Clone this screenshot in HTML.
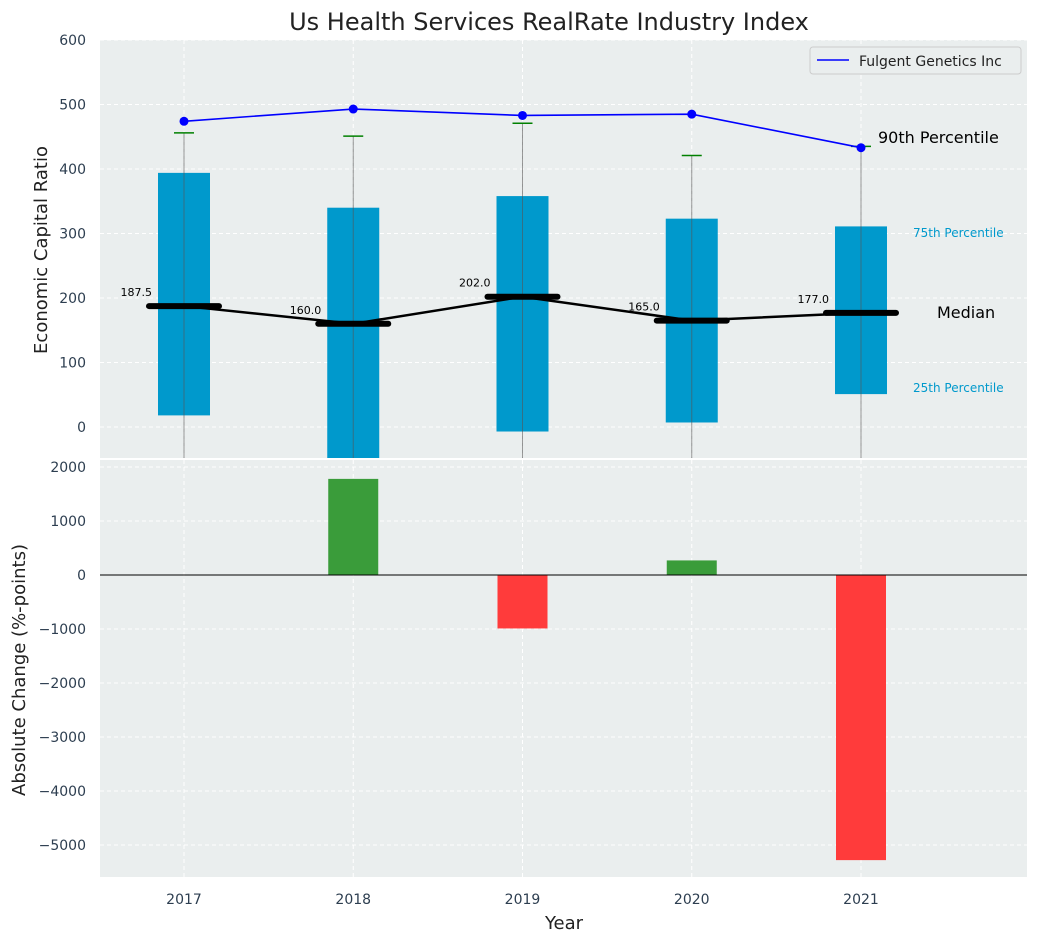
<!DOCTYPE html>
<html><head><meta charset="utf-8"><style>
body{margin:0;background:#fff;font-family:"Liberation Sans","DejaVu Sans",sans-serif;}
svg text{font-family:"DejaVu Sans","Liberation Sans",sans-serif;}
</style></head><body>
<svg id="c" width="1039" height="942" xmlns="http://www.w3.org/2000/svg"></svg>
<script>
const years=[2017,2018,2019,2020,2021];
const p25=[18,-60,-7,7,51];
const p75=[394,340,358,323,311];
const p90=[456,451,471,421,435];
const medians=[187.5,160,202,165,177];
const fulgent=[474,493,483,485,433];
const changes=[0,1780,-990,270,-5280];
const topTicks=[0,100,200,300,400,500,600];
const botTicks=[2000,1000,0,-1000,-2000,-3000,-4000,-5000];

const NS="http://www.w3.org/2000/svg";
const svg=document.getElementById('c');
function el(t,a,parent){const e=document.createElementNS(NS,t);for(const k in a)e.setAttribute(k,a[k]);(parent||svg).appendChild(e);return e;}
const L=100,R=1027;
const x=v=>184+(v-2017)*169.25;
const yT=v=>427-v*0.645;
const yB=v=>575-v*0.054;
const T0=40,T1=458,B0=460,B1=877;

// backgrounds
let bg=el('rect',{x:L,y:T0,width:R-L,height:T1-T0,fill:'#eaeeee'});

let bg2=el('rect',{x:L,y:B0,width:R-L,height:B1-B0,fill:'#eaeeee'});


// top grid + ticks
topTicks.forEach(t=>{
 el('line',{x1:L,x2:R,y1:yT(t),y2:yT(t),stroke:'#fff','stroke-dasharray':'4,3','stroke-width':1});
 const tx=el('text',{x:86,y:yT(t)+5,'text-anchor':'end','font-size':14,fill:'#2d3e50'});tx.textContent=t;
 
});
years.forEach(yr=>{
 el('line',{x1:x(yr),x2:x(yr),y1:T0,y2:T1,stroke:'#fff','stroke-dasharray':'4,3'});
 el('line',{x1:x(yr),x2:x(yr),y1:B0,y2:B1,stroke:'#fff','stroke-dasharray':'4,3'});
 const tx=el('text',{x:x(yr),y:904,'text-anchor':'middle','font-size':14,fill:'#2d3e50'});tx.textContent=yr;
 
});
botTicks.forEach(t=>{
 el('line',{x1:L,x2:R,y1:yB(t),y2:yB(t),stroke:'#fff','stroke-dasharray':'4,3'});
 const tx=el('text',{x:86,y:yB(t)+5,'text-anchor':'end','font-size':14,fill:'#2d3e50'});tx.textContent=(t<0?'\u2212'+(-t):t);
 
});

// clip
const defs=el('defs',{});
const cp=el('clipPath',{id:'ct'},defs);el('rect',{x:L,y:T0,width:R-L,height:T1-T0},cp);
const g=el('g',{'clip-path':'url(#ct)'});

years.forEach((yr,i)=>{
 const b=el('rect',{x:x(yr)-26,y:yT(p75[i]),width:52,height:yT(p25[i])-yT(p75[i]),fill:'#0099cc'},g);
 
 el('line',{x1:x(yr),x2:x(yr),y1:yT(p90[i]),y2:T1,stroke:'#555','stroke-opacity':0.6,'stroke-width':1},g);
 el('line',{x1:x(yr)-10,x2:x(yr)+10,y1:yT(p90[i]),y2:yT(p90[i]),stroke:'#008000','stroke-width':1.5},g);
 const m=el('line',{x1:x(yr)-35,x2:x(yr)+35,y1:yT(medians[i]),y2:yT(medians[i]),stroke:'#000','stroke-width':6,'stroke-linecap':'round'},g);
 
 const lb=el('text',{x:x(yr)-32,y:yT(medians[i])-10,'text-anchor':'end','font-size':11,fill:'#000'});lb.textContent=medians[i].toFixed(1);
 
});
const ml=el('polyline',{points:years.map((yr,i)=>x(yr)+','+yT(medians[i])).join(' '),fill:'none',stroke:'#000','stroke-width':2.5},g);

const fl=el('polyline',{points:years.map((yr,i)=>x(yr)+','+yT(fulgent[i])).join(' '),fill:'none',stroke:'#0000ff','stroke-width':1.6},g);

years.forEach((yr,i)=>{const c=el('circle',{cx:x(yr),cy:yT(fulgent[i]),r:4.5,fill:'#0000ff'},g);
 });

// annotations
[['90th Percentile',878,143,16,'#000'],['75th Percentile',913,237,12,'#0099cc'],['Median',937,318,16,'#000'],['25th Percentile',913,392,12,'#0099cc']].forEach(a=>{
 const t=el('text',{x:a[1],y:a[2],'font-size':a[3],fill:a[4]});t.textContent=a[0];
 
});

// legend
const lg=el('g',{});
el('rect',{x:810,y:47,width:211,height:27,fill:'#eaeeee',stroke:'#ccc',rx:3},lg);
el('line',{x1:817,x2:849,y1:60,y2:60,stroke:'#0000ff','stroke-width':1.6},lg);
const lt=el('text',{x:859,y:66,'font-size':14,fill:'#222'},lg);lt.textContent='Fulgent Genetics Inc';

// bottom bars
const ct2=el('clipPath',{id:'cb'},defs);el('rect',{x:L,y:B0,width:R-L,height:B1-B0},ct2);
const g2=el('g',{'clip-path':'url(#cb)'});
years.forEach((yr,i)=>{
 if(!changes[i])return;
 const v=changes[i];
 const r=el('rect',{x:x(yr)-25,y:Math.min(yB(v),yB(0)),width:50,height:Math.abs(yB(v)-yB(0)),fill:v>0?'#3a9c3a':'#ff3b3b'},g2);
 
});
el('line',{x1:L,x2:R,y1:yB(0),y2:yB(0),stroke:'#000','stroke-width':1});

// titles
const ti=el('text',{x:549,y:30,'text-anchor':'middle','font-size':24,fill:'#222'});ti.textContent='Us Health Services RealRate Industry Index';

const y1=el('text',{x:0,y:0,'text-anchor':'middle','font-size':18,fill:'#222',transform:'translate(47,250) rotate(-90)'});y1.textContent='Economic Capital Ratio';

const y2=el('text',{x:0,y:0,'text-anchor':'middle','font-size':18,fill:'#222',transform:'translate(25,670) rotate(-90)'});y2.textContent='Absolute Change (%-points)';

const xt=el('text',{x:564,y:929,'text-anchor':'middle','font-size':18,fill:'#222'});xt.textContent='Year';

</script>
</body></html>
